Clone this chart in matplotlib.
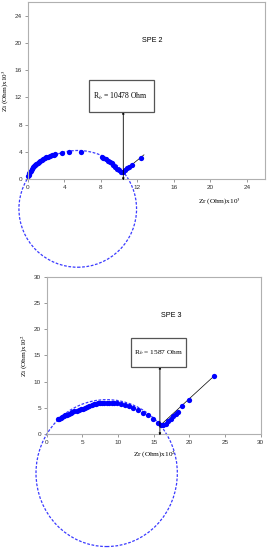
import matplotlib
matplotlib.use('Agg')
import matplotlib.pyplot as plt
from matplotlib.patches import Ellipse, Rectangle

# SPE 2 impedance data (x10^3 Ohm)
spe2_zr = [0.07, 0.12, 0.18, 0.25, 0.33, 0.44, 0.55, 0.68, 0.8, 0.95, 1.1, 1.25,
           1.4, 1.55, 1.7, 1.88, 2.05, 2.25, 2.45, 2.65, 2.85, 3.0, 3.72, 4.56,
           5.8, 8.1, 8.3, 8.55, 8.83, 9.05, 9.2, 9.38, 9.6, 9.8, 10.0, 10.18,
           10.47, 10.65, 10.84, 11.1, 11.4, 12.4]
spe2_zi = [0.44, 0.65, 0.85, 1.05, 1.25, 1.5, 1.7, 1.9, 2.07, 2.25, 2.4, 2.55,
           2.68, 2.8, 2.92, 3.05, 3.17, 3.3, 3.4, 3.5, 3.6, 3.68, 3.8, 3.94,
           3.94, 3.3, 3.15, 2.95, 2.66, 2.45, 2.3, 2.07, 1.8, 1.48, 1.3, 1.08,
           1.08, 1.3, 1.58, 1.8, 2.07, 3.15]
spe2_fit_zr = [10.4, 12.74]
spe2_fit_zi = [1.0, 3.55]
spe2_circle = [5.49, -4.38, 12.88, 17.14]   # centre x, centre y, width, height
spe2_rb = 10478

# SPE 3 impedance data (x10^2 Ohm)
spe3_zr = [1.64, 1.8, 2.0, 2.2, 2.4, 2.6, 2.85, 3.1, 3.35, 3.6, 3.9, 4.2, 4.5,
           4.8, 5.1, 5.4, 5.7, 6.0, 6.3, 6.6, 6.9, 7.2, 7.5, 7.8, 8.1, 8.4,
           8.7, 9.1, 9.5, 9.9, 10.4, 11.0, 11.6, 12.1, 12.85, 13.55, 14.25,
           14.95, 15.65, 16.0, 16.35, 16.7, 17.06, 17.4, 17.75, 18.1, 18.45,
           18.9, 20.0, 23.46]
spe3_zi = [2.85, 3.0, 3.15, 3.3, 3.45, 3.6, 3.75, 3.9, 4.05, 4.2, 4.35, 4.5,
           4.6, 4.75, 4.9, 5.05, 5.25, 5.45, 5.6, 5.72, 5.82, 5.9, 5.95, 6.0,
           6.02, 6.02, 6.0, 5.98, 5.95, 5.9, 5.8, 5.6, 5.3, 4.95, 4.6, 4.1,
           3.7, 2.9, 2.1, 1.8, 1.8, 2.0, 2.5, 2.9, 3.4, 3.9, 4.3, 5.3, 6.5,
           11.1]
spe3_fit_zr = [16.0, 23.46]
spe3_fit_zi = [1.8, 11.1]
spe3_circle = [8.41, -7.39, 19.8, 27.97]
spe3_rb = 1587

spine_col = '#b0b0b0'
serif = 'Liberation Serif'
sans = 'Liberation Sans'
plt.rcParams['mathtext.fontset'] = 'stix'

fig = plt.figure(figsize=(2.68, 5.5), dpi=100)
ax1 = fig.add_axes([0.103, 0.6745, 0.886, 0.322])
ax2 = fig.add_axes([0.174, 0.2104, 0.799, 0.2865])


def style(ax, xmax, ymax, step, ylab, xlab, xlab_x):
    ax.set_xlim(0, xmax)
    ax.set_ylim(0, ymax)
    ax.set_xticks(range(0, xmax + 1, step))
    ax.set_yticks(range(0, ymax + 1, step))
    for s in ax.spines.values():
        s.set_color(spine_col)
        s.set_linewidth(0.8)
    ax.tick_params(length=2, width=0.6, color='#888888', labelsize=4.6, pad=2)
    ax.set_ylabel(ylab, fontfamily=serif, fontsize=5.2, labelpad=3)
    ax.text(xlab_x, -0.13, xlab, transform=ax.transAxes, ha='center', va='center',
            fontfamily=serif, fontsize=5.2)


def draw(ax, zr, zi, fit_zr, fit_zi, circ, rb_x, box, label, rb_text, spe_xy, fs):
    ax.add_patch(Ellipse((circ[0], circ[1]), circ[2], circ[3], fill=False,
                         edgecolor='#3a3aff', linewidth=0.9,
                         linestyle=(0, (2.2, 1.3)), clip_on=False))
    ax.plot(fit_zr, fit_zi, color='black', linewidth=0.5, clip_on=False)
    ax.plot(zr, zi, 'o', color='#0000ff', markersize=3.8, markeredgewidth=0,
            clip_on=False)
    x0, y0, x1, y1 = box
    ax.add_patch(Rectangle((x0, y0), x1 - x0, y1 - y0, facecolor='white',
                           edgecolor='#555555', linewidth=0.9, zorder=4))
    ax.text(x0 + 0.06 * (x1 - x0), (y0 + y1) / 2, rb_text, fontfamily=serif,
            fontsize=fs, va='center', ha='left', zorder=5)
    ax.annotate('', xy=(rb_x, y0), xytext=(rb_x, -0.2),
                arrowprops=dict(arrowstyle='<|-|>', color='black', lw=0.6,
                                mutation_scale=3, shrinkA=0, shrinkB=0),
                annotation_clip=False)
    ax.text(spe_xy[0], spe_xy[1], label, fontfamily=sans, fontsize=5.2,
            ha='center', va='center')


style(ax1, 26, 26, 4, r'Zi (Ohm)x10$^3$', r'Zr (Ohm)x10$^3$', 0.81)
ax1.set_xticks(range(0, 25, 4))
ax1.set_yticks(range(0, 25, 4))
draw(ax1, spe2_zr, spe2_zi, spe2_fit_zr, spe2_fit_zi, spe2_circle,
     spe2_rb / 1000, (6.75, 9.9, 13.85, 14.5), 'SPE 2',
     r'R$_{b}$ = %d Ohm' % spe2_rb, (13.6, 20.4), 5.5)

style(ax2, 30, 30, 5, r'Zi (Ohm)x10$^2$', r'Zr (Ohm)x10$^2$', 0.506)
draw(ax2, spe3_zr, spe3_zi, spe3_fit_zr, spe3_fit_zi, spe3_circle,
     spe3_rb / 100, (11.8, 12.9, 19.5, 18.3), 'SPE 3',
     r'R$_{b}$ = %d Ohm' % spe3_rb, (17.4, 22.7), 5.3)

for ax in (ax1, ax2):
    for lab in ax.get_xticklabels() + ax.get_yticklabels():
        lab.set_fontfamily(sans)
        lab.set_color('#333333')

fig.savefig('out.png', dpi=100)
